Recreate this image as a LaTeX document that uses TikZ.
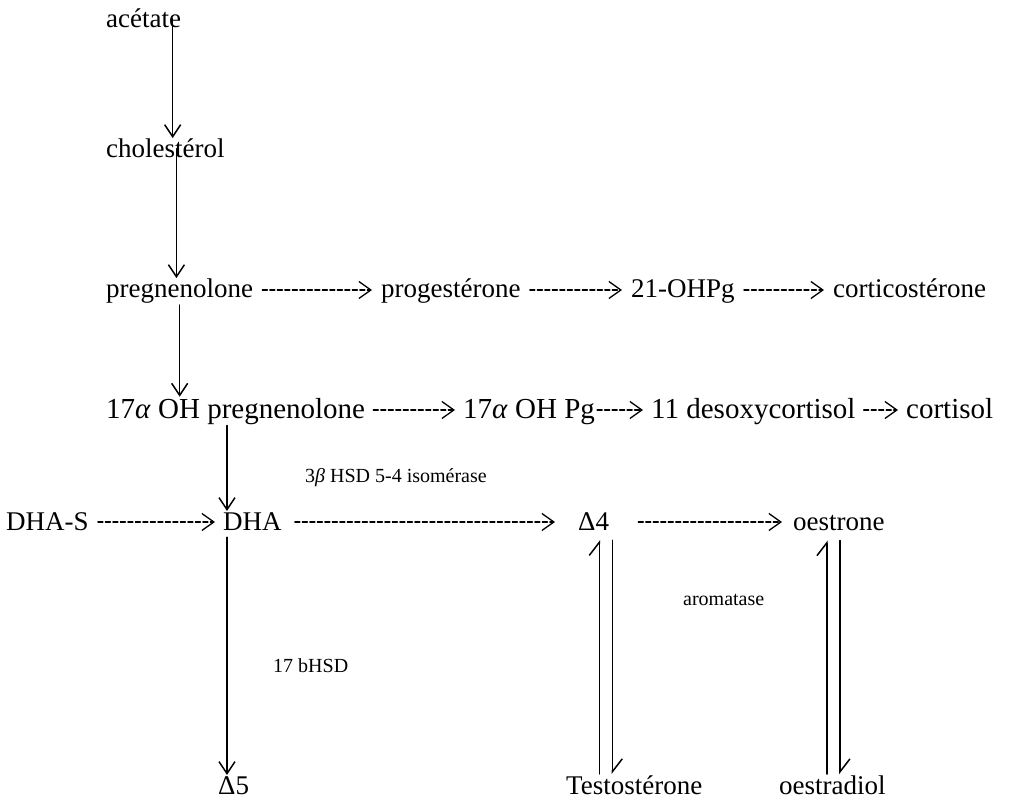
\documentclass[tikz,border=0pt]{standalone}
\usepackage{fontspec}
\setmainfont{Liberation Serif}
\usetikzlibrary{arrows.meta}

\tikzset{
  mol/.style={anchor=base west, inner sep=1pt, font=\fontsize{27}{30}\selectfont},
  molbig/.style={mol, font=\fontsize{29}{32}\selectfont},
  enz/.style={anchor=base west, inner sep=1pt, font=\fontsize{20}{24}\selectfont},
  arr/.style={line width=1.4pt, -{Straight Barb[length=12pt,width=16pt,line width=1.5pt]}},
  harp/.style={line width=1.4pt, -{Straight Barb[left,length=13pt,width=20pt,line width=1.5pt]}},
  dashto/.style={line width=1.3pt, dash pattern=on 5pt off 2.5pt,
    -{Straight Barb[length=12pt,width=17pt,line width=1.3pt,sep=4pt]}},
}

\begin{document}
\begin{tikzpicture}[x=1pt, y=-1pt, line join=round, line cap=round]
  \path[use as bounding box, fill=white] (0,0) rectangle (1020,802);
  % molecules
  \node[mol] (acet) at (105,28) {acétate};
  \node[mol] (chol) at (105,158) {cholestérol};
  \node[mol] (preg) at (105,298) {pregnenolone};
  \node[mol] (prog) at (380,298) {progestérone};
  \node[mol] (ohpg) at (630,298) {21-OHPg};
  \node[mol] (cort) at (832,298) {corticostérone};
  \node[molbig] (ohpreg) at (105,418) {17\textit{α} OH pregnenolone};
  \node[molbig] (ohprog) at (462,418) {17\textit{α} OH Pg};
  \node[molbig] (desox) at (650,418) {11 desoxycortisol};
  \node[molbig] (cortisol) at (905,418) {cortisol};
  \node[mol] (dhas) at (5,530) {DHA-S};
  \node[mol] (dha) at (222,530) {DHA};
  \node[mol] (dfour) at (577,530) {Δ4};
  \node[mol] (oestrone) at (792,530) {oestrone};
  \node[mol] (dfive) at (217,794) {Δ5};
  \node[mol] (testo) at (565,794) {Testostérone};
  \node[mol] (oestradiol) at (778,794) {oestradiol};
  % enzymes
  \node[enz] (hsdiso) at (304,482) {3\textit{β} HSD 5-4 isomérase};
  \node[enz] (bhsd) at (272,672) {17 bHSD};
  \node[enz] (arom) at (682,605) {aromatase};
  % vertical steps
  \draw[arr] ([xshift=29pt]acet.center) -- ([xshift=29pt]acet.center |- chol.north);
  \draw[arr] ([xshift=11pt]chol.center) -- ([xshift=11pt]chol.center |- preg.north);
  \draw[arr] (preg.south) -- (preg.south |- ohpreg.north);
  \draw[arr] ([xshift=5pt]dha.north west |- ohpreg.south) -- ([xshift=5pt]dha.north west);
  \draw[arr] ([xshift=5pt,yshift=-6pt]dha.south west) -- ([xshift=5pt]dha.south west |- dfive.north);
  % reversible steps
  \draw[harp] ([xshift=-11pt]dfour.south east |- testo.north) -- ([xshift=-11pt,yshift=-9pt]dfour.south east);
  \draw[harp] ([xshift=2pt,yshift=-9pt]dfour.south east) -- ([xshift=2pt]dfour.south east |- testo.north);
  \draw[harp] ([xshift=-5.5pt]oestradiol.north) -- ([xshift=-5.5pt,yshift=-9pt]oestradiol.north |- oestrone.south);
  \draw[harp] ([xshift=7.5pt,yshift=-9pt]oestradiol.north |- oestrone.south) -- ([xshift=7.5pt]oestradiol.north);
  % dashed steps
  \foreach \a/\b/\s/\t in {preg/prog/8/4, prog/ohpg/8/4, ohpg/cort/8/4,
      ohpreg/ohprog/7/3, ohprog/desox/1/3, desox/cortisol/7/3,
      dhas/dha/8/3, dha/dfour/12/18, dfour/oestrone/28/6}
    \draw[dashto, shorten <=\s pt, shorten >=\t pt]
      ([yshift=8pt]\a.base east) -- ([yshift=8pt]\b.base west);
\end{tikzpicture}
\end{document}
